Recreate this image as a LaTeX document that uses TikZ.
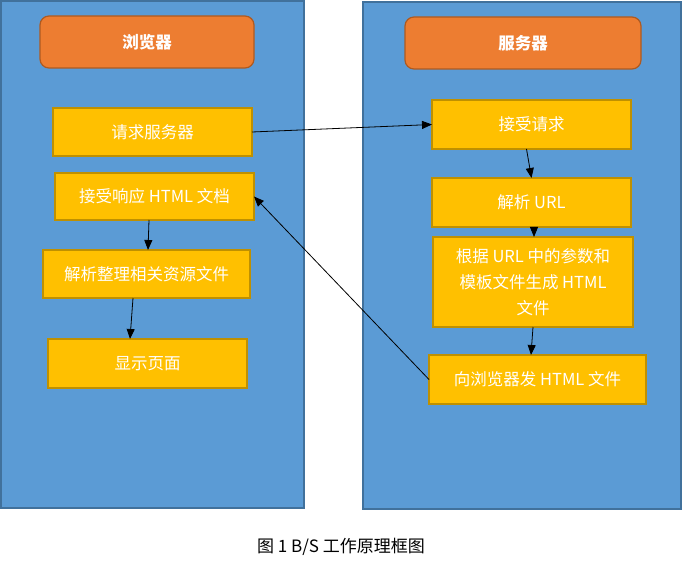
\documentclass[tikz,border=0pt]{standalone}
\usepackage{fontspec}
\usepackage{tikz}
\usetikzlibrary{arrows.meta}
\newfontfamily\cjk{Noto Sans CJK SC}
\definecolor{panelblue}{HTML}{5B9BD5}
\definecolor{paneledge}{HTML}{41719C}
\definecolor{hdrorange}{HTML}{ED7D31}
\definecolor{hdredge}{HTML}{AE5A21}
\definecolor{boxyellow}{HTML}{FFC000}
\definecolor{boxedge}{HTML}{BF9000}

\begin{document}
\begin{tikzpicture}
  [x=1pt,y=-1pt,
   panel/.style={draw=paneledge,fill=panelblue,line width=1.5pt,outer sep=0pt},
   hdr/.style={draw=hdredge,fill=hdrorange,line width=1.2pt,rounded corners=9pt,
     text=white,font=\cjk\bfseries\fontsize{16.5}{19}\selectfont,outer sep=0pt},
   stepbox/.style={draw=boxedge,fill=boxyellow,line width=1.6pt,text=white,
     font=\cjk\fontsize{16.5}{26}\selectfont,align=center,inner sep=2pt,outer sep=0pt},
   link/.style={draw,line width=0.8pt,-{Triangle[length=10pt,width=8pt]}}]
  \useasboundingbox (0,0) rectangle (682,569);
  \node[panel,minimum width=303pt,minimum height=507pt] (browser) at (152.5,254.5) {};
  \node[panel,minimum width=318pt,minimum height=507pt] (server) at (522,255.5) {};
  \node[hdr,minimum width=214pt,minimum height=52pt] (hb) at (147,42) {浏览器};
  \node[hdr,minimum width=236pt,minimum height=52pt] (hs) at (523,43) {服务器};
  \node[stepbox,minimum width=199pt,minimum height=48pt] (reqsrv) at (152.5,132) {请求服务器};
  \node[stepbox,minimum width=199pt,minimum height=47pt] (recvresp) at (154.5,196.5) {接受响应 HTML 文档};
  \node[stepbox,minimum width=207pt,minimum height=48pt] (parse) at (146.5,274) {解析整理相关资源文件};
  \node[stepbox,minimum width=199pt,minimum height=49pt] (show) at (147.5,363.5) {显示页面};
  \node[stepbox,minimum width=199pt,minimum height=49pt] (recvreq) at (531.5,124.5) {接受请求};
  \node[stepbox,minimum width=199pt,minimum height=49pt] (parseurl) at (531.5,202.5) {解析 URL};
  \node[stepbox,minimum width=200pt,minimum height=90pt] (gen) at (533,282)
    {根据 URL 中的参数和\\模板文件生成 HTML\\文件};
  \node[stepbox,minimum width=217pt,minimum height=49pt] (send) at (537.5,379.5) {向浏览器发 HTML 文件};
  \node[font=\cjk\fontsize{17}{20}\selectfont] (cap) at (341,547) {图 1 B/S 工作原理框图};
  \foreach \from/\to in {reqsrv.east/recvreq.west,send.west/recvresp.east}
    \draw[link] (\from) -- (\to);
  \foreach \from/\to/\a/\b in {recvreq/parseurl/-5/0,parseurl/gen/2.5/1,gen/send/0/-6.5,%
                               recvresp/parse/-5.5/1.5,parse/show/-13.5/-17.5}
    \draw[link] ([xshift=\a pt]\from.south) -- ([xshift=\b pt]\to.north);
\end{tikzpicture}
\end{document}
